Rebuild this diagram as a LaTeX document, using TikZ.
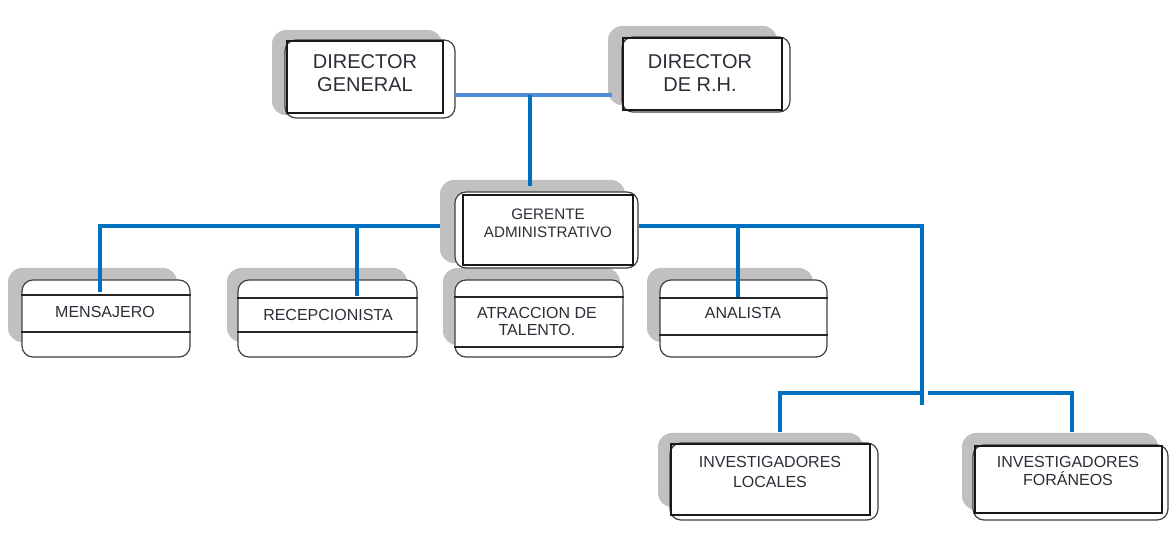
\documentclass[tikz,border=0pt]{standalone}
\usepackage{fontspec}
\setmainfont{Liberation Sans}
\definecolor{linkblue}{RGB}{0,112,192}
\definecolor{linklight}{RGB}{80,140,215}
\definecolor{shad}{RGB}{192,192,192}
\definecolor{txt}{RGB}{45,45,55}
\begin{document}
\begin{tikzpicture}[x=1pt,y=-1pt,
  shadowfill/.style={fill=shad, rounded corners=14pt},
  box/.style={draw=black!75, line width=1.2pt, rounded corners=11pt, fill=white, inner sep=0pt},
  innerrect/.style={draw=black!90, line width=1.2pt},
  divline/.style={draw=black!85, line width=1.3pt},
  conn/.style={draw=linkblue, line width=3.6pt},
  connlight/.style={draw=linklight, line width=3.6pt},
  lbl/.style={font=\fontsize{16}{17.5}\selectfont, text=txt, align=center, inner sep=0pt},
  biglbl/.style={font=\fontsize{20}{23}\selectfont, text=txt, align=center, inner sep=0pt}
]
\useasboundingbox (0,0) rectangle (1171,537);

% ---- shadows
\fill[shadowfill] (272,30) rectangle (442,115);
\fill[shadowfill] (608,26) rectangle (777,105);
\fill[shadowfill] (440,180) rectangle (625,263);
\fill[shadowfill] (8,268) rectangle (177,342);
\fill[shadowfill] (227,268) rectangle (407,342);
\fill[shadowfill] (443,268) rectangle (620,345);
\fill[shadowfill] (647,268) rectangle (813,342);
\fill[shadowfill] (658,433) rectangle (863,507);
\fill[shadowfill] (962,433) rectangle (1158,510);

% ---- boxes
\node[box, minimum width=170pt, minimum height=78pt] (dg) at (370,79) {};
\draw[innerrect] (287,41) rectangle (443,113);
\node[biglbl] (dgt) at (365,73.5) {DIRECTOR\\GENERAL};

\node[box, minimum width=168pt, minimum height=75pt] (rh) at (706,74.5) {};
\draw[innerrect] (623,38) rectangle (782,110);
\node[biglbl] (rht) at (700,73.5) {DIRECTOR\\DE R.H.};

\node[box, minimum width=183pt, minimum height=76pt] (ga) at (546.5,230) {};
\draw[innerrect] (463,195) rectangle (633,265);
\node[lbl, font=\fontsize{15.2}{17.5}\selectfont] (gat) at (548,223.5) {GERENTE\\ADMINISTRATIVO};

\node[box, minimum width=168pt, minimum height=77pt] (me) at (106,318.5) {};
\draw[divline] (me.west |- 0,295) -- (me.east |- 0,295);
\draw[divline] (me.west |- 0,332) -- (me.east |- 0,332);
\node[lbl] (met) at (105,312) {MENSAJERO};

\node[box, minimum width=179pt, minimum height=77pt] (re) at (327.5,318.5) {};
\draw[divline] (re.west |- 0,298) -- (re.east |- 0,298);
\draw[divline] (re.west |- 0,332) -- (re.east |- 0,332);
\node[lbl] (ret) at (328,315) {RECEPCIONISTA};

\node[box, minimum width=168pt, minimum height=77pt] (at) at (539,318.5) {};
\draw[divline, line width=2pt] (at.west |- 0,297) -- (at.east |- 0,297);
\draw[divline, line width=2pt] (at.west |- 0,347) -- (at.east |- 0,347);
\node[lbl] (att) at (537,321.5) {ATRACCION DE\\TALENTO.};

\node[box, minimum width=167pt, minimum height=77pt] (an) at (743.5,318.5) {};
\draw[divline] (an.west |- 0,298) -- (an.east |- 0,298);
\draw[divline] (an.west |- 0,335) -- (an.east |- 0,335);
\node[lbl] (ant) at (743,313) {ANALISTA};

\node[box, minimum width=208pt, minimum height=77pt] (il) at (774,481.5) {};
\draw[innerrect] (671,444) rectangle (870,515);
\node[lbl, font=\fontsize{16}{20}\selectfont] (ilt) at (770,472) {INVESTIGADORES\\LOCALES};

\node[box, minimum width=195pt, minimum height=75pt] (if) at (1070.5,482.5) {};
\draw[innerrect] (975,446) rectangle (1162,513);
\node[lbl, font=\fontsize{16}{18.5}\selectfont] (ift) at (1068,471) {INVESTIGADORES\\FORÁNEOS};

% ---- connectors
\coordinate (j1) at (530,95);
\draw[connlight] (dg.east |- j1) -- ([xshift=-9pt]rh.west |- j1);
\draw[conn] (j1) -- ([shift={(-16.5pt,5pt)}]ga.north);

% left branch
\coordinate (jl) at (440,226);
\draw[conn] (jl) -| ([shift={(-6pt,-13pt)}]me.north);
\coordinate (red) at ([shift={(29.5pt,-17pt)}]re.north);
\draw[conn] (red) -- (red |- jl);

% right branch
\coordinate (jr) at (922,226);
\coordinate (jrb) at (922,405);
\draw[conn] ([yshift=4pt]ga.east) -- (jr) -- (jrb);
\coordinate (and) at ([shift={(-5.5pt,-18pt)}]an.north);
\draw[conn] (and) -- (and |- jr);

% lower branch
\coordinate (jb) at (922,393);
\draw[conn] ([shift={(6pt,10pt)}]il.north) |- (jb);
\draw[conn] ([xshift=6pt]jb) -| ([shift={(1.5pt,12pt)}]if.north);
\end{tikzpicture}
\end{document}
